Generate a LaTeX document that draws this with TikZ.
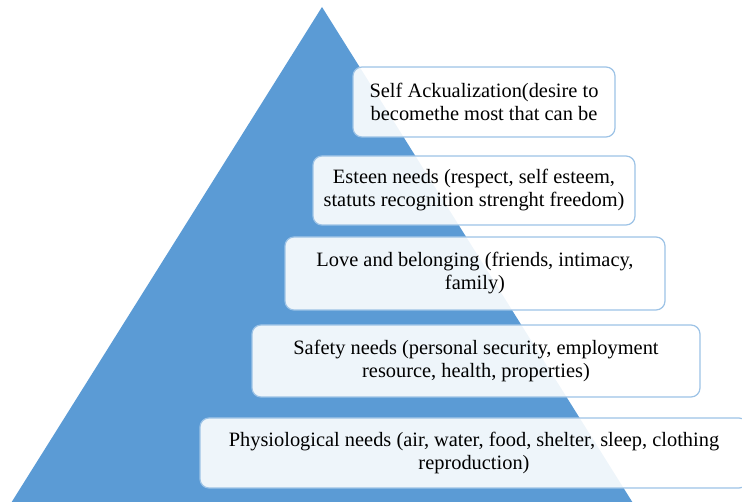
\documentclass[tikz,border=0pt]{standalone}
\usepackage{fontspec}
\setmainfont{Liberation Serif}
\definecolor{pyramidblue}{RGB}{91,155,213}
\definecolor{leveledge}{RGB}{157,195,230}

\begin{document}
\begin{tikzpicture}[x=1pt, y=-1pt,
    level/.style={draw=leveledge, line width=1.2pt, fill=white, fill opacity=0.9,
      text opacity=1, rounded corners=9pt, align=center, inner sep=0pt,
      font=\fontsize{20.4}{23}\selectfont}]
    \useasboundingbox (0,0) rectangle (742,502);
    \clip (0,0) rectangle (742,502);

    % Pyramid
    \fill[pyramidblue] (322,7) -- (695,602) -- (-51,602) -- cycle;

    % Levels of needs, top to bottom
    \node[level, minimum width=262, minimum height=70] (selfact) at (484,102)
      {Self Ackualization(desire to\\becomethe most that can be};
    \node[level, minimum width=322, minimum height=69] (esteem) at (474,190.5)
      {Esteen needs (respect, self esteem,\\statuts recognition strenght freedom)};
    \node[level, minimum width=380, minimum height=73] (love) at (475,273.5)
      {Love and belonging (friends, intimacy,\\family)};
    \node[level, minimum width=448, minimum height=72] (safety) at (476,361)
      {Safety needs (personal security, employment\\resource, health, properties)};
    \node[level, minimum width=548, minimum height=70] (physio) at (474,453)
      {Physiological needs (air, water, food, shelter, sleep, clothing\\reproduction)};
\end{tikzpicture}
\end{document}
